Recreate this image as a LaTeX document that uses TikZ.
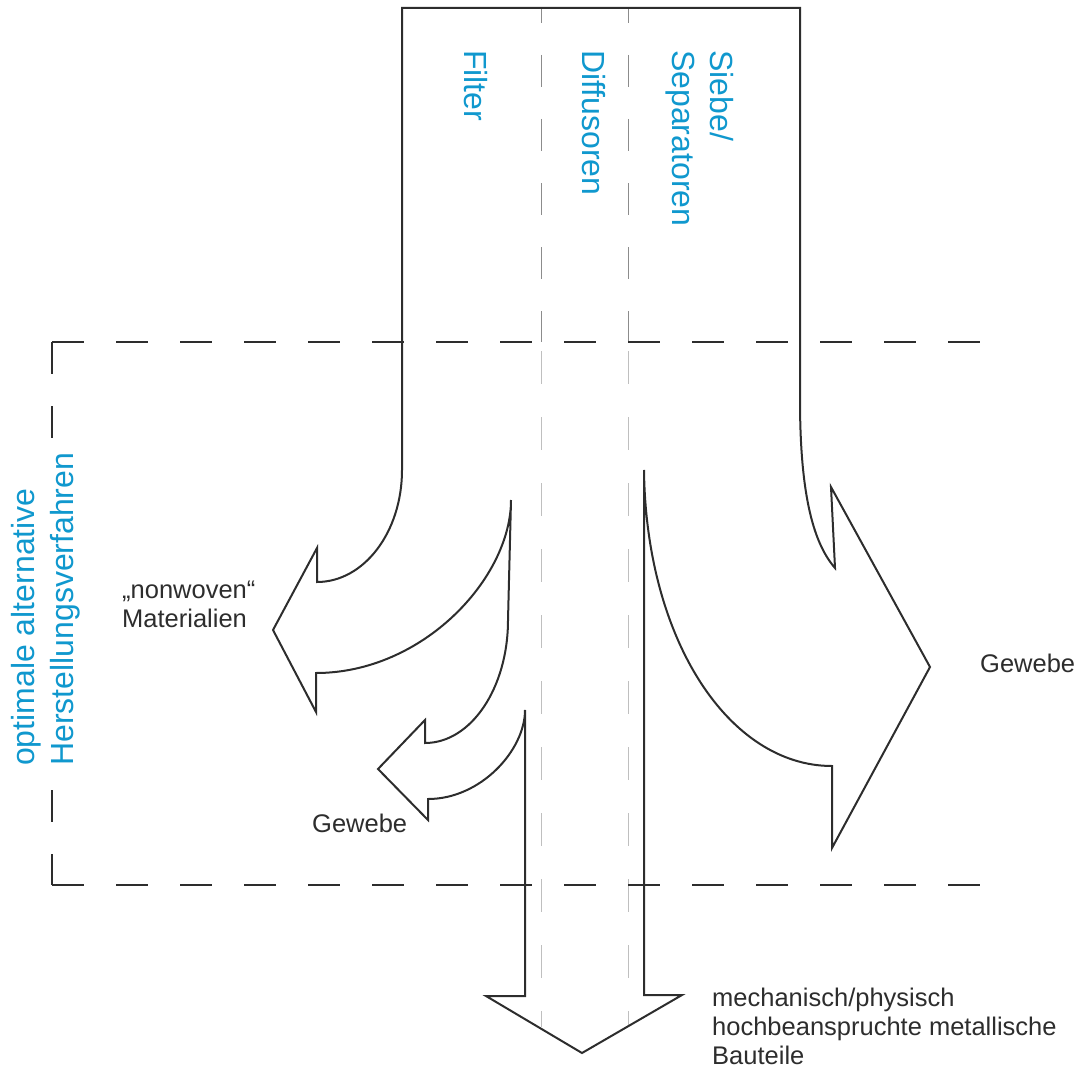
\documentclass[tikz,border=0pt]{standalone}
\usepackage{fontspec}
\setmainfont{Liberation Sans}
\definecolor{lblblue}{RGB}{16,152,206}
\definecolor{ink}{RGB}{45,45,45}
\begin{document}
\begin{tikzpicture}[x=1pt,y=-1pt,
  outline/.style={draw=ink, line width=2pt, line join=miter},
  framedash/.style={draw=ink, line width=2.3pt, dash pattern=on 32pt off 32pt},
  guideup/.style={draw=black!45, line width=1pt, dash pattern=on 32pt off 32pt, dash phase=17pt},
  guidelow/.style={draw=black!25, line width=1pt, dash pattern=on 33pt off 33pt, dash phase=57pt},
  bluetxt/.style={text=lblblue, font=\fontsize{32}{38.5}\selectfont, inner sep=0pt, align=left},
  blacktxt/.style={text=ink, font=\fontsize{25.5}{29}\selectfont, inner sep=0pt, align=left}]
\useasboundingbox (0,0) rectangle (1084,1070);

% guide lines
\coordinate (g1t) at (541,8);   \coordinate (g1m) at (541,342); \coordinate (g1b) at (541,1027);
\coordinate (g2t) at (628,8);   \coordinate (g2m) at (628,342); \coordinate (g2b) at (628,1026);
\draw[guideup] (g1t) -- (g1m);
\draw[guideup] (g2t) -- (g2m);
\draw[guidelow] (g1m) -- (g1b);
\draw[guidelow] (g2m) -- (g2b);

% dashed frame
\coordinate (ftl) at (52,342); \coordinate (ftr) at (980,342);
\coordinate (fbl) at (52,885); \coordinate (fbr) at (980,885);
\draw[framedash] (ftl) -- (ftr);
\draw[framedash] (ftl) -- (fbl);
\draw[framedash] (fbl) -- (fbr);

% main flow outline
\draw[outline]
  (402,8) -- (402,470)
  .. controls (402,532) and (364,582) .. (317,582)
  -- (317,548) -- (273,630) -- (316,712) -- (316,673)
  .. controls (423,673) and (511,578) .. (511,500)
  -- (508,620)
  .. controls (508,688) and (471,743) .. (425,743)
  -- (425,720) -- (378,769) -- (428,820) -- (428,799)
  .. controls (481,799) and (525,750) .. (525,710)
  -- (525,996) -- (486,996) -- (582,1053) -- (682,995) -- (644,995)
  -- (644,470)
  .. controls (646,640) and (729,766) .. (832,766)
  -- (832,848) -- (930,667) -- (831,487) -- (835,568)
  .. controls (815,545) and (800,500) .. (800,400)
  -- (800,8) -- cycle;

% labels (multi-line nodes: base anchor = baseline of last line)
\node[bluetxt, rotate=-90, anchor=base west] (filter) at (464,50) {Filter};
\node[bluetxt, rotate=-90, anchor=base west] (diff) at (582,50) {Diffusoren};
\node[bluetxt, rotate=-90, anchor=base west] (sieb) at (672,50) {Siebe/\\Separatoren};
\node[bluetxt, rotate=90, anchor=base west, fill=white] (opt) at (73,766) {optimale alternative\\Herstellungsverfahren};

\node[blacktxt, anchor=base west] (nonw) at (122,627) {„nonwoven“\\Materialien};
\node[blacktxt, anchor=base west] (gew1) at (312,832) {Gewebe};
\node[blacktxt, anchor=base west] (gew2) at (980,672) {Gewebe};
\node[blacktxt, anchor=base west] (mech) at (712,1064) {mechanisch/physisch\\hochbeanspruchte metallische\\Bauteile};
\end{tikzpicture}
\end{document}
